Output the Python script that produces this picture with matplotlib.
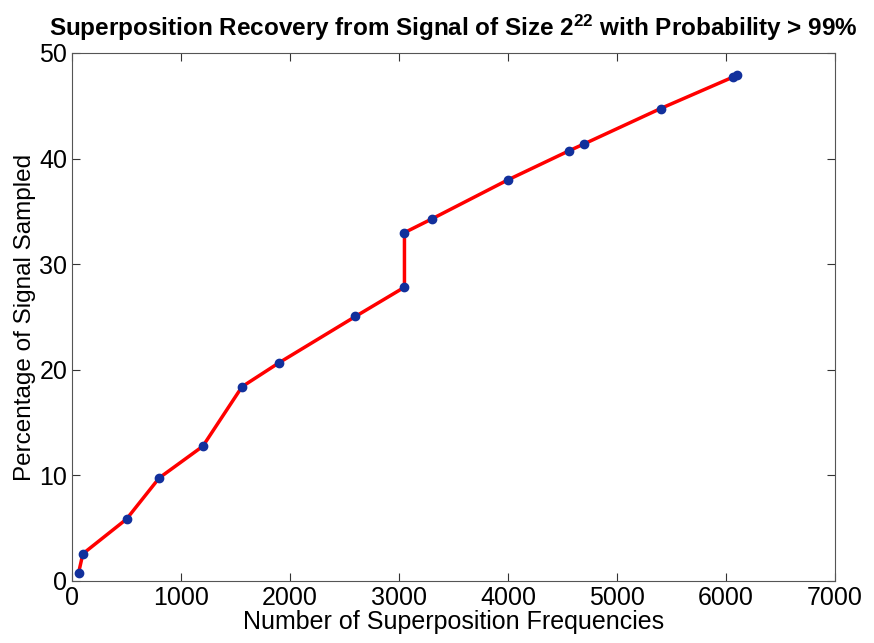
import matplotlib
matplotlib.use("Agg")
import matplotlib.pyplot as plt

plt.rcParams['font.family'] = ['Liberation Sans', 'DejaVu Sans']
plt.rcParams['mathtext.fontset'] = 'custom'
plt.rcParams['mathtext.rm'] = 'Liberation Sans'
plt.rcParams['mathtext.bf'] = 'Liberation Sans:bold'

frequencies = [60, 100, 500, 800, 1200, 1560, 1900, 2600, 3050, 3050, 3300, 4000, 4560, 4700, 5400, 6060, 6100]
percent_sampled = [0.76, 2.58, 5.86, 9.76, 12.76, 18.4, 20.67, 25.05, 27.82, 32.99, 34.28, 37.99, 40.74, 41.40, 44.74, 47.70, 47.89]
xticks = [0, 1000, 2000, 3000, 4000, 5000, 6000, 7000]
yticks = [0, 10, 20, 30, 40, 50]

fig = plt.figure(figsize=(8.74, 6.43), dpi=100)
ax = fig.add_axes([72/874, 1-581/643, (835-72)/874, (581-53)/643])
ax.plot(frequencies, percent_sampled, color='#ff0000', lw=2.5, zorder=2)
ax.plot(frequencies, percent_sampled, ls='none', marker='o', ms=6, color='#12309c', zorder=3)
ax.set_xlim(0, 7000)
ax.set_ylim(0, 50)
ax.set_xticks(xticks)
ax.set_yticks(yticks)
ax.tick_params(direction='in', top=True, right=True, length=6, labelsize=18, colors='#333333', labelcolor='black')
for s in ax.spines.values():
    s.set_color('#555555')
ax.set_xlabel('Number of Superposition Frequencies', fontsize=18, labelpad=0)
ax.set_ylabel('Percentage of Signal Sampled', fontsize=17.5, labelpad=2)
ax.set_title(r'Superposition Recovery from Signal of Size $\mathbf{2^{22}}$ with Probability > 99%',
             fontsize=17.5, fontweight='bold', pad=12)
fig.savefig('out.png', dpi=100)
